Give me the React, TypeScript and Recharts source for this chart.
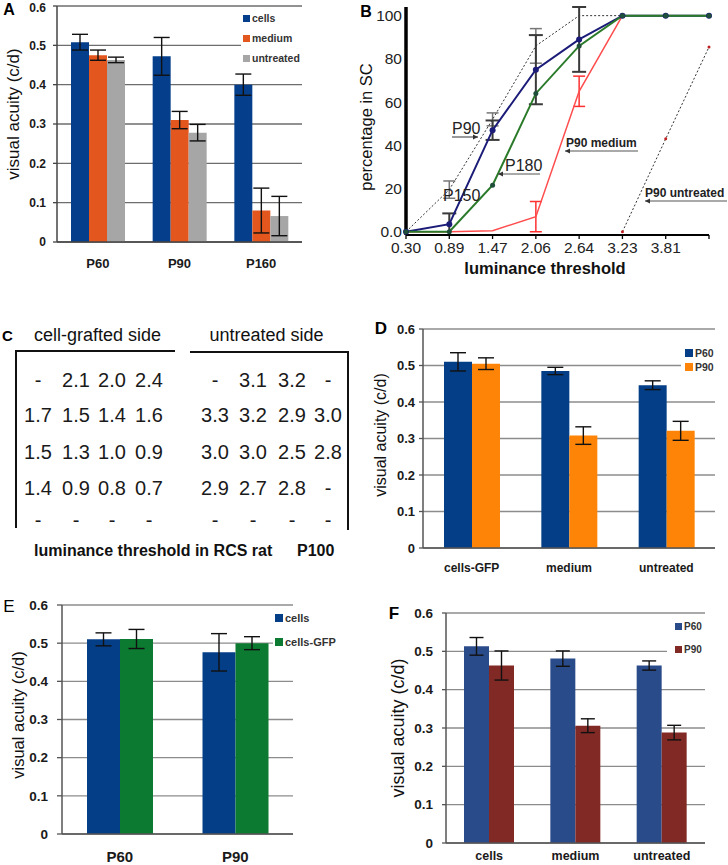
import React from "react";
import { BarChart, Bar, LineChart, Line, XAxis, YAxis, CartesianGrid, ErrorBar } from "recharts";

const FONT = "Arial, 'Liberation Sans', Helvetica, sans-serif";

// A: visual acuity, cells vs medium vs untreated
const aAges = ["P60", "P90", "P160"];
const aCells = [0.508, 0.472, 0.4];
const aCellsErr = [0.02, 0.048, 0.027];
const aMedium = [0.475, 0.31, 0.08];
const aMediumErr = [0.013, 0.022, 0.057];
const aUntreated = [0.463, 0.278, 0.066];
const aUntreatedErr = [0.007, 0.021, 0.05];

// B: percentage in SC vs luminance threshold
const bThresholds = ["0.30", "0.89", "1.47", "2.06", "2.64", "3.23", "3.81", ""];
const bCellsP90 = [0, 19.5, 52, 86, 100, 100, null, null];
const bCellsP90Err = [null, 4, 3, 8, null, null, null, null];
const bCellsP150 = [0, 3.5, 47, 75, 89, 100, 100, 100];
const bCellsP150Err = [null, 5, 4.5, 16, 15, null, null, null];
const bCellsP180 = [0, 0, 21.5, 64, 86, 100, 100, 100];
const bMediumP90 = [0, 0, 0.5, 7, 65, 100, null, null];
const bMediumP90Err = [null, null, null, 7, 7, null, null, null];
const bUntreatedP90 = [null, null, null, null, null, 0, 43, 85.5];

// C: luminance threshold table (RCS rat, P100)
const cGrafted = [
  ["-", "2.1", "2.0", "2.4"],
  ["1.7", "1.5", "1.4", "1.6"],
  ["1.5", "1.3", "1.0", "0.9"],
  ["1.4", "0.9", "0.8", "0.7"],
  ["-", "-", "-", "-"],
];
const cUntreated = [
  ["-", "3.1", "3.2", "-"],
  ["3.3", "3.2", "2.9", "3.0"],
  ["3.0", "3.0", "2.5", "2.8"],
  ["2.9", "2.7", "2.8", "-"],
  ["-", "-", "-", "-"],
];

// D: cells-GFP / medium / untreated at P60 and P90
const dGroups = ["cells-GFP", "medium", "untreated"];
const dP60 = [0.51, 0.485, 0.446];
const dP60Err = [0.025, 0.01, 0.012];
const dP90 = [0.505, 0.308, 0.321];
const dP90Err = [0.016, 0.024, 0.026];

// E: cells vs cells-GFP
const eAges = ["P60", "P90"];
const eCells = [0.51, 0.476];
const eCellsErr = [0.017, 0.049];
const eCellsGfp = [0.511, 0.5];
const eCellsGfpErr = [0.025, 0.017];

// F: cells / medium / untreated at P60 and P90
const fGroups = ["cells", "medium", "untreated"];
const fP60 = [0.513, 0.481, 0.463];
const fP60Err = [0.023, 0.02, 0.012];
const fP90 = [0.463, 0.306, 0.288];
const fP90Err = [0.038, 0.018, 0.019];

const acuityTicks = [0, 0.1, 0.2, 0.3, 0.4, 0.5, 0.6];
const fmtAcuity = (v: number) => (v === 0 ? "0" : v.toFixed(1));

type BarSeries = { key: string; name: string; color: string; values: number[]; errors: number[] };

function toRows(cats: string[], series: BarSeries[]) {
  return cats.map((c, i) => {
    const row: Record<string, string | number> = { cat: c };
    series.forEach((s) => {
      row[s.key] = s.values[i];
      row[s.key + "Err"] = s.errors[i];
    });
    return row;
  });
}

type BarPanelProps = {
  left: number;
  top: number;
  width: number;
  height: number;
  marginTop: number;
  marginRight: number;
  yWidth: number;
  xHeight: number;
  categories: string[];
  series: BarSeries[];
  barSize: number;
  yFont: number;
  yTickSize: number;
  yTickMargin: number;
  xFont: number;
  xTickMargin: number;
  grid: string;
  axis: string;
  edgeTicks: boolean;
  cap: number;
};

function BarPanel(p: BarPanelProps) {
  const rows = toRows(p.categories, p.series);
  const edges = p.categories.map((_, i) => i).concat(p.categories.length);
  return (
    <div style={{ position: "absolute", left: p.left, top: p.top }}>
      <BarChart
        width={p.width}
        height={p.height}
        data={rows}
        barSize={p.barSize}
        barGap={0}
        margin={{ top: p.marginTop, right: p.marginRight, bottom: 0, left: 0 }}
      >
        <CartesianGrid vertical={false} stroke={p.grid} strokeWidth={1.3} />
        {p.edgeTicks && (
          <XAxis
            xAxisId="edges"
            type="number"
            domain={[0, p.categories.length]}
            ticks={edges}
            height={0}
            axisLine={false}
            tick={false}
            tickSize={5}
            tickLine={{ stroke: p.axis, strokeWidth: 1.3 }}
            allowDataOverflow
          />
        )}
        <XAxis
          dataKey="cat"
          height={p.xHeight}
          tickLine={false}
          tickSize={0}
          tickMargin={p.xTickMargin}
          axisLine={{ stroke: p.axis, strokeWidth: 1.5 }}
          tick={{ fontSize: p.xFont, fontWeight: 700, fill: "#1a1a1a", fontFamily: FONT }}
        />
        <YAxis
          width={p.yWidth}
          domain={[0, 0.6]}
          ticks={acuityTicks}
          tickFormatter={fmtAcuity}
          tickSize={p.yTickSize}
          tickMargin={p.yTickMargin}
          axisLine={{ stroke: p.axis, strokeWidth: 1.5 }}
          tickLine={{ stroke: p.axis, strokeWidth: 1.3 }}
          tick={{ fontSize: p.yFont, fontWeight: 700, fill: "#1a1a1a", fontFamily: FONT }}
        />
        {p.series.map((s) => (
          <Bar key={s.key} dataKey={s.key} name={s.name} fill={s.color} isAnimationActive={false}>
            <ErrorBar
              dataKey={s.key + "Err"}
              direction="y"
              width={p.cap}
              stroke="#111"
              strokeWidth={1.4}
              isAnimationActive={false}
            />
          </Bar>
        ))}
      </BarChart>
    </div>
  );
}

function SquareLegend(props: {
  left: number;
  top: number;
  width: number;
  row: number;
  pad: number;
  size: number;
  font: number;
  items: { name: string; color: string }[];
}) {
  return (
    <div
      style={{
        position: "absolute",
        left: props.left,
        top: props.top,
        width: props.width,
        paddingLeft: props.pad,
        background: "#fff",
        boxSizing: "border-box",
      }}
    >
      {props.items.map((it) => (
        <div key={it.name} style={{ height: props.row, display: "flex", alignItems: "center" }}>
          <span style={{ width: props.size, height: props.size, background: it.color, marginRight: 2, flex: "none" }} />
          <span style={{ fontSize: props.font, fontWeight: 700, color: "#333", whiteSpace: "nowrap" }}>{it.name}</span>
        </div>
      ))}
    </div>
  );
}

function VLabel({ cx, cy, size, text }: { cx: number; cy: number; size: number; text: string }) {
  return (
    <div
      style={{
        position: "absolute",
        left: cx,
        top: cy,
        transform: "translate(-50%, -50%) rotate(-90deg)",
        fontSize: size,
        lineHeight: 1,
        whiteSpace: "nowrap",
        color: "#111",
      }}
    >
      {text}
    </div>
  );
}

function Letter({ cx, cy, size, bold, text }: { cx: number; cy: number; size: number; bold: boolean; text: string }) {
  return (
    <div
      style={{
        position: "absolute",
        left: cx,
        top: cy,
        transform: "translate(-50%, -50%)",
        fontSize: size,
        lineHeight: 1,
        fontWeight: bold ? 700 : 400,
        color: "#000",
      }}
    >
      {text}
    </div>
  );
}

function Arrow({ x1, x2, y, head }: { x1: number; x2: number; y: number; head: "left" | "right" }) {
  const hx = head === "left" ? x1 : x2;
  const d = head === "left" ? 5 : -5;
  return (
    <g>
      <line x1={x1} y1={y} x2={x2} y2={y} stroke="#555" strokeWidth={1.2} />
      <polygon points={`${hx},${y} ${hx + d},${y - 2.5} ${hx + d},${y + 2.5}`} fill="#333" />
    </g>
  );
}

function ThresholdChart() {
  const rows = bThresholds.map((t, i) => ({
    i,
    p90: bCellsP90[i],
    p90Err: bCellsP90Err[i],
    p150: bCellsP150[i],
    p150Err: bCellsP150Err[i],
    p180: bCellsP180[i],
    med: bMediumP90[i],
    medErr: bMediumP90Err[i],
    unt: bUntreatedP90[i],
  }));
  const idx = bThresholds.map((_, i) => i);
  return (
    <div style={{ position: "absolute", left: 240, top: 0 }}>
      <LineChart width={488} height={290} data={rows} margin={{ top: 7, right: 19, bottom: 0, left: 0 }}>
        <XAxis
          type="number"
          dataKey="i"
          domain={[0, 7]}
          ticks={idx}
          tickFormatter={(i: number) => bThresholds[i]}
          height={55}
          tickSize={4}
          tickMargin={3}
          axisLine={{ stroke: "#000", strokeWidth: 2 }}
          tickLine={{ stroke: "#000", strokeWidth: 1.3 }}
          tick={{ fontSize: 15.5, fill: "#222", fontFamily: FONT }}
        />
        <YAxis
          width={166}
          domain={[0, 100]}
          ticks={[0, 20, 40, 60, 80, 100]}
          tickFormatter={(v: number) => (v === 0 ? "0.0" : String(v))}
          tickLine={false}
          tickSize={0}
          tickMargin={4}
          axisLine={{ stroke: "#000", strokeWidth: 3.5 }}
          tick={{ fontSize: 15.5, fill: "#222", fontFamily: FONT }}
        />
        <Line dataKey="p90" name="P90" stroke="#333" strokeWidth={1} strokeDasharray="2 2" dot={false} isAnimationActive={false}>
          <ErrorBar dataKey="p90Err" direction="y" width={6} stroke="#777" strokeWidth={1.5} isAnimationActive={false} />
        </Line>
        <Line
          dataKey="unt"
          name="P90 untreated"
          stroke="#333"
          strokeWidth={1}
          strokeDasharray="2 2"
          dot={{ r: 1.5, fill: "#c02020", stroke: "none" }}
          isAnimationActive={false}
        />
        <Line dataKey="med" name="P90 medium" stroke="#ff4d4d" strokeWidth={1.5} dot={false} isAnimationActive={false}>
          <ErrorBar dataKey="medErr" direction="y" width={6} stroke="#ff3030" strokeWidth={1.5} isAnimationActive={false} />
        </Line>
        <Line
          dataKey="p150"
          name="P150"
          stroke="#1b1b78"
          strokeWidth={2}
          dot={{ r: 3, fill: "#1b1b78", stroke: "none" }}
          isAnimationActive={false}
        >
          <ErrorBar dataKey="p150Err" direction="y" width={7} stroke="#3a3a3a" strokeWidth={2} isAnimationActive={false} />
        </Line>
        <Line
          dataKey="p180"
          name="P180"
          stroke="#2a7a2a"
          strokeWidth={2}
          dot={{ r: 2.5, fill: "#1f4f3a", stroke: "none" }}
          isAnimationActive={false}
        />
      </LineChart>
    </div>
  );
}

function TablePanel() {
  const rowY = [90, 125, 162, 198, 230];
  const leftX = [38, 76, 112, 149];
  const rightX = [215, 253, 292, 328];
  return (
    <svg width={370} height={290} style={{ position: "absolute", left: 0, top: 290 }} fontFamily={FONT}>
      <text x={7.5} y={45} fontSize={15} fontWeight={700} textAnchor="middle" dominantBaseline="central">C</text>
      <text x={97.5} y={45} fontSize={18} textAnchor="middle" dominantBaseline="central" fill="#111">cell-grafted side</text>
      <text x={266.5} y={45} fontSize={18} textAnchor="middle" dominantBaseline="central" fill="#111">untreated side</text>
      <line x1={16} y1={61} x2={175} y2={61} stroke="#111" strokeWidth={2} />
      <line x1={190} y1={62} x2={348} y2={62} stroke="#111" strokeWidth={2} />
      <line x1={16} y1={60} x2={16} y2={238} stroke="#111" strokeWidth={2} />
      <line x1={348} y1={61} x2={348} y2={240} stroke="#111" strokeWidth={2} />
      {cGrafted.map((r, ri) =>
        r.map((v, ci) => (
          <text key={`g${ri}${ci}`} x={leftX[ci]} y={rowY[ri]} fontSize={20} textAnchor="middle" dominantBaseline="central" fill="#1a1a1a">
            {v}
          </text>
        ))
      )}
      {cUntreated.map((r, ri) =>
        r.map((v, ci) => (
          <text key={`u${ri}${ci}`} x={rightX[ci]} y={rowY[ri]} fontSize={20} textAnchor="middle" dominantBaseline="central" fill="#1a1a1a">
            {v}
          </text>
        ))
      )}
      <text x={34} y={260} fontSize={16} fontWeight={700} dominantBaseline="central" fill="#111">luminance threshold in RCS rat</text>
      <text x={297} y={260} fontSize={16} fontWeight={700} dominantBaseline="central" fill="#111">P100</text>
    </svg>
  );
}

export default function App() {
  const aSeries: BarSeries[] = [
    { key: "cells", name: "cells", color: "#053f8c", values: aCells, errors: aCellsErr },
    { key: "medium", name: "medium", color: "#e3571f", values: aMedium, errors: aMediumErr },
    { key: "untreated", name: "untreated", color: "#a6a6a6", values: aUntreated, errors: aUntreatedErr },
  ];
  const dSeries: BarSeries[] = [
    { key: "p60", name: "P60", color: "#043e87", values: dP60, errors: dP60Err },
    { key: "p90", name: "P90", color: "#fd8406", values: dP90, errors: dP90Err },
  ];
  const eSeries: BarSeries[] = [
    { key: "cells", name: "cells", color: "#043e87", values: eCells, errors: eCellsErr },
    { key: "gfp", name: "cells-GFP", color: "#0c7a31", values: eCellsGfp, errors: eCellsGfpErr },
  ];
  const fSeries: BarSeries[] = [
    { key: "p60", name: "P60", color: "#2a4b8a", values: fP60, errors: fP60Err },
    { key: "p90", name: "P90", color: "#812925", values: fP90, errors: fP90Err },
  ];

  return (
    <div
      style={{
        position: "absolute",
        left: 0,
        top: 0,
        width: 728,
        height: 865,
        background: "#fff",
        fontFamily: FONT,
        overflow: "hidden",
      }}
    >
      {/* A */}
      <BarPanel
        left={0} top={0} width={310} height={290} marginTop={6} marginRight={8}
        yWidth={57} xHeight={48} categories={aAges} series={aSeries} barSize={18}
        yFont={12} yTickSize={4} yTickMargin={7} xFont={13} xTickMargin={17}
        grid="#6d6d6d" axis="#444" edgeTicks cap={8}
      />
      <SquareLegend
        left={241} top={8} width={66} row={20} pad={2} size={7} font={10.5}
        items={aSeries.map((s) => ({ name: s.name, color: s.color }))}
      />
      <Letter cx={9} cy={10} size={16} bold text="A" />
      <VLabel cx={12.5} cy={114} size={17} text="visual acuity (c/d)" />

      {/* B */}
      <ThresholdChart />
      <Letter cx={366} cy={12} size={16} bold text="B" />
      <VLabel cx={366} cy={127} size={16.5} text="percentage in SC" />
      <div
        style={{
          position: "absolute",
          left: 545,
          top: 268,
          transform: "translate(-50%, -50%)",
          fontSize: 16.5,
          fontWeight: 700,
          lineHeight: 1,
          whiteSpace: "nowrap",
          color: "#111",
        }}
      >
        luminance threshold
      </div>
      <svg width={728} height={290} style={{ position: "absolute", left: 0, top: 0, pointerEvents: "none" }} fontFamily={FONT}>
        <text x={452} y={134} fontSize={16} fill="#222">P90</text>
        <Arrow x1={452} x2={478} y={137} head="right" />
        <text x={443} y={201} fontSize={16} fill="#222">P150</text>
        <text x={505} y={171} fontSize={16} fill="#222">P180</text>
        <Arrow x1={498} x2={540} y={174} head="left" />
        <text x={566} y={147} fontSize={12} fontWeight={700} fill="#222">P90 medium</text>
        <Arrow x1={565} x2={638} y={151} head="left" />
        <text x={645} y={197} fontSize={12} fontWeight={700} fill="#222">P90 untreated</text>
        <Arrow x1={645} x2={727} y={201} head="left" />
      </svg>

      {/* C */}
      <TablePanel />

      {/* D */}
      <BarPanel
        left={370} top={290} width={358} height={290} marginTop={39} marginRight={13}
        yWidth={53} xHeight={32} categories={dGroups} series={dSeries} barSize={28}
        yFont={13} yTickSize={4} yTickMargin={4} xFont={12} xTickMargin={15}
        grid="#8c8c8c" axis="#555" edgeTicks cap={8}
      />
      <SquareLegend
        left={681} top={346} width={40} row={14} pad={4} size={8} font={10.5}
        items={dSeries.map((s) => ({ name: s.name, color: s.color }))}
      />
      <Letter cx={381} cy={328} size={17} bold text="D" />
      <VLabel cx={381} cy={435} size={16} text="visual acuity (c/d)" />

      {/* E */}
      <BarPanel
        left={0} top={580} width={370} height={285} marginTop={25} marginRight={77}
        yWidth={62} xHeight={31} categories={eAges} series={eSeries} barSize={33}
        yFont={13.5} yTickSize={5} yTickMargin={9} xFont={15} xTickMargin={17}
        grid="#8c8c8c" axis="#555" edgeTicks cap={8}
      />
      <SquareLegend
        left={273} top={606} width={66} row={24} pad={2} size={8} font={11}
        items={eSeries.map((s) => ({ name: s.name, color: s.color }))}
      />
      <Letter cx={9} cy={606} size={17} bold={false} text="E" />
      <VLabel cx={17.5} cy={715} size={16.5} text="visual acuity (c/d)" />

      {/* F */}
      <BarPanel
        left={370} top={580} width={358} height={285} marginTop={33} marginRight={23}
        yWidth={76} xHeight={22} categories={fGroups} series={fSeries} barSize={25}
        yFont={13.5} yTickSize={4} yTickMargin={9} xFont={12.5} xTickMargin={8}
        grid="#8c8c8c" axis="#555" edgeTicks={false} cap={7}
      />
      <SquareLegend
        left={667} top={615} width={42} row={23} pad={8} size={7} font={10}
        items={fSeries.map((s) => ({ name: s.name, color: s.color }))}
      />
      <Letter cx={394} cy={613} size={17} bold text="F" />
      <VLabel cx={398} cy={728} size={18} text="visual acuity (c/d)" />
    </div>
  );
}
